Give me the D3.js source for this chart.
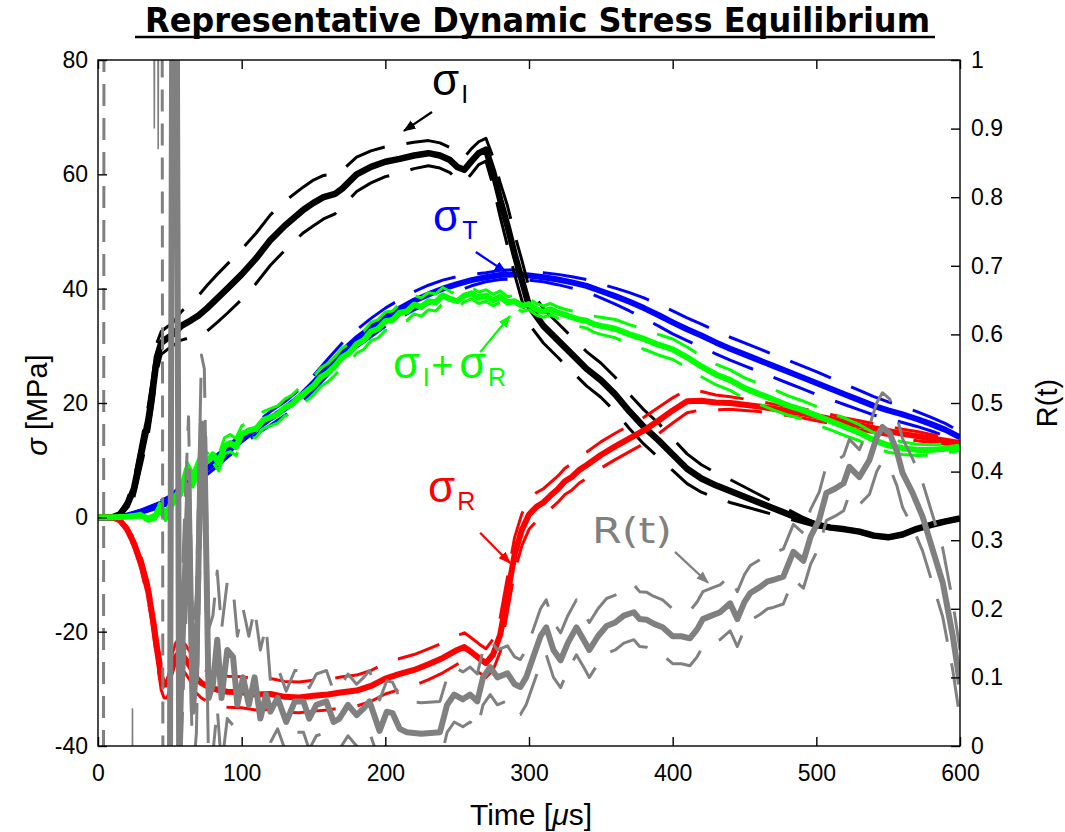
<!DOCTYPE html>
<html><head><meta charset="utf-8">
<script src="https://cdn.jsdelivr.net/npm/d3@7"></script>
<style>body{margin:0;background:#fff}svg{display:block}</style>
</head><body><svg id="c" width="1065" height="832"></svg>
<script>
// [time µs, mean, half-band of the dashed bounds]
const sigmaI = [[0,0,0],[10,0,0],[15,0.5,0.3],[20,2,0.8],[25,5,1.5],[30,11,2],[35,17,2.5],[38,22,2.5],[41,28,2.5],[44,30.5,2],[48,31.3,2],[52,32,2],[58,33.5,2.5],[65,34.5,3],[70,35.3,3.5],[76,36.6,4],[83,38.3,4.2],[90,40,4.3],[100,42.5,4.4],[110,45.3,4.4],[120,48.5,4.4],[130,51,4.3],[143,53.8,4],[150,55,4],[157,56,3.8],[165,56.6,3.5],[170,57.5,3.2],[180,60,3],[190,61.3,2.8],[200,62.2,2.6],[210,62.7,2.5],[220,63.3,2.3],[230,63.7,2.2],[238,63.3,2.2],[245,62.5,2.2],[250,61.3,2.2],[255,60.8,2.2],[260,62.3,2.2],[265,63.7,2],[270,64.3,2],[275,60.5,2.5],[280,55.5,3],[285,51,3.5],[290,46,3.5],[295,41.5,3.5],[300,37,3.2],[310,33.5,3],[320,31,3],[330,28.5,3],[340,26,3],[350,24,3],[360,21.5,3],[370,18.5,3],[380,15.8,3],[390,13.5,3],[400,11,2.8],[410,8.5,2.6],[420,6.8,2.4],[430,5.6,2.2],[440,4.6,2],[450,3.6,1.7],[460,2.6,1.4],[470,1.6,1.1],[480,0.6,0.8],[490,-0.4,0.5],[500,-1.3,0.3],[510,-1.8,0.2],[520,-2.1,0.2],[530,-2.5,0.2],[540,-3.2,0.2],[550,-3.5,0.2],[560,-3,0.2],[570,-2,0.2],[580,-1.3,0.2],[590,-0.7,0.2],[600,-0.2,0.2]];
const sigmaT = [[0,0,0],[10,0,0],[20,0.3,0.1],[30,1,0.3],[40,2,0.5],[50,3,0.7],[60,5.3,0.8],[70,7.3,1],[80,9.3,1],[90,11.5,1],[100,13.5,1],[110,15.5,1],[120,17.3,1.2],[130,19,1.2],[140,21,1.3],[150,23.5,1.3],[160,26.3,1.4],[170,29,1.5],[180,31.3,1.5],[190,33.2,1.6],[200,35,1.6],[210,36.5,1.6],[220,37.9,1.6],[230,39,1.6],[240,40,1.5],[250,40.8,1.3],[260,41.5,1],[270,42,0.8],[280,42.4,0.8],[290,42.5,0.8],[300,42.3,0.8],[310,42,0.8],[320,41.6,0.9],[330,41.1,1],[340,40.5,1.1],[350,39.6,1.2],[360,38.7,1.4],[370,37.7,1.6],[380,36.6,1.8],[390,35.4,1.9],[400,34.1,2],[410,32.9,2],[420,31.8,2],[430,30.6,2],[440,29.5,2],[450,28.5,2],[460,27.5,2],[470,26.5,2],[480,25.5,2],[490,24.5,2],[500,23.5,2],[510,22.5,1.9],[520,21.5,1.8],[530,20.5,1.7],[540,19.5,1.6],[550,18.7,1.5],[560,18,1.4],[570,17.2,1.3],[580,16.3,1.2],[590,15.3,1.1],[600,14,1]];
const sigmaIR = [[0,0,0],[10,0,0],[20,0.1,0.2],[30,0.3,0.4],[35,-0.2,0.5],[40,0.3,0.6],[43,1.8,0.7],[47,0.2,0.8],[52,2.5,1],[57,4,1],[62,8.5,1.2],[66,6.5,1.2],[71,9.5,1.3],[76,9.8,1.3],[80,11,1.4],[84,9.5,1.4],[88,12.5,1.4],[92,13,1.5],[96,12.3,1.5],[100,14.5,1.5],[105,15.2,1.5],[110,15.5,1.5],[115,17,1.5],[120,17.5,1.5],[125,18,1.5],[130,19.2,1.5],[135,19.8,1.6],[140,21,1.6],[145,22,1.6],[150,23,1.6],[155,24.5,1.6],[160,25.3,1.6],[165,26.5,1.6],[170,28,1.6],[175,28.8,1.6],[180,30.3,1.6],[185,31,1.6],[190,32.5,1.6],[195,33,1.6],[200,34.3,1.6],[205,34.5,1.6],[210,35.8,1.6],[215,36,1.6],[220,37.2,1.6],[225,36.8,1.6],[230,37.8,1.5],[235,37.6,1.5],[240,38.8,1.4],[245,38.2,1.3],[250,37.8,1.2],[255,38.8,1.1],[260,39.2,1],[265,38.4,1],[270,38.8,1],[275,38,1],[280,38.6,1],[285,37.6,1],[290,37.8,1],[295,37,1],[300,37.3,1],[305,36.4,1],[310,36,1],[315,36.4,1],[320,35.8,1],[325,35.4,1],[330,35,1.1],[335,34.6,1.2],[340,34.4,1.3],[345,33.8,1.4],[350,33.5,1.5],[360,33,1.6],[370,32,1.7],[380,31.2,1.8],[390,30.2,1.8],[400,29.4,1.8],[410,28,1.8],[420,26.4,1.8],[430,25,1.8],[440,24,1.8],[450,22.6,1.8],[460,21.6,1.8],[470,20.6,1.8],[480,19.6,1.7],[490,18.8,1.6],[500,17.8,1.6],[510,16.8,1.5],[520,15.8,1.5],[530,14.8,1.4],[540,13.5,1.3],[550,12.6,1.2],[560,12.1,1.1],[570,11.8,1],[580,11.8,0.9],[590,12,0.8],[600,12.4,0.7]];
const sigmaR = [[0,0,0],[10,0,0],[15,-0.5,0.2],[20,-2,0.4],[25,-4.5,0.8],[30,-8,1.1],[35,-13,1.5],[38,-17.5,1.7],[41,-23,2],[44,-28,2.2],[46,-29.3,2.3],[48,-29.2,2.4],[51,-27,2.5],[54,-24.5,2.5],[57,-23.5,2.5],[60,-24.5,2.5],[64,-26,2.5],[68,-28,2.6],[72,-29,2.6],[78,-29.8,2.7],[84,-30.2,2.7],[90,-30.5,2.7],[100,-30.6,2.7],[110,-31,2.7],[120,-30.9,2.7],[130,-31.4,2.7],[140,-31.5,2.7],[150,-31.2,2.7],[160,-31,2.7],[170,-30.6,2.7],[180,-30.3,2.7],[190,-29.5,2.7],[200,-28.2,2.7],[210,-27.4,2.7],[220,-26.7,2.7],[230,-25.7,2.7],[240,-24.6,2.6],[250,-23.2,2.5],[255,-22.7,2.5],[260,-23.6,2.5],[265,-24.6,2.5],[270,-25.5,2.5],[275,-24,2.7],[280,-20.5,3],[285,-13.5,3],[290,-6.5,3],[295,-2.2,2.8],[300,0.5,2.6],[305,1.8,2.5],[310,2.6,2.4],[315,3.8,2.3],[320,4.9,2.3],[325,6.3,2.3],[330,7.1,2.3],[335,8.3,2.3],[340,9.1,2.3],[350,10.9,2.3],[360,12.4,2.3],[370,13.8,2.3],[380,15.2,2.3],[390,16.9,2.3],[400,18.7,2.2],[410,20.3,2],[420,20.4,1.6],[430,20.1,1.3],[440,20,1.1],[450,19.7,1],[460,19.4,0.9],[470,19,0.8],[480,18.6,0.8],[490,18.2,0.8],[500,17.7,0.8],[510,17.2,0.8],[520,16.6,0.8],[530,16.1,0.8],[540,15.6,0.8],[550,15.1,0.8],[560,14.6,0.8],[570,14.2,0.8],[580,13.8,0.7],[590,13.4,0.6],[600,13,0.5]];
const ratioR = [[50,-0.1,0.03],[52,1.3,0.03],[54.5,1.3,0.03],[56.5,-0.02,0.03],[58,0.1,0.1],[60.5,0.25,0.1],[63,0.38,0.1],[66,0.05,0.1],[68.5,0.12,0.1],[72,0.47,0.1],[74,0.45,0.1],[77,0.07,0.1],[80,0.09,0.1],[83,0.155,0.1],[86,0.07,0.1],[90,0.14,0.1],[94,0.13,0.1],[97,0.06,0.1],[101,0.1,0.1],[105,0.06,0.1],[109,0.1,0.1],[113,0.04,0.1],[117,0.075,0.1],[120,0.05,0.045],[125,0.07,0.045],[131,0.035,0.045],[137,0.065,0.045],[143,0.065,0.045],[147,0.04,0.045],[152,0.06,0.045],[159,0.065,0.045],[164,0.035,0.045],[168,0.04,0.045],[174,0.06,0.045],[180,0.045,0.045],[185,0.055,0.045],[189,0.065,0.045],[196,0.022,0.045],[201,0.05,0.045],[205,0.048,0.045],[210,0.025,0.045],[215,0.02,0.045],[225,0.018,0.045],[238,0.02,0.045],[243,0.06,0.04],[248,0.075,0.04],[254,0.068,0.04],[259,0.075,0.04],[264,0.065,0.04],[268,0.1,0.04],[273,0.115,0.04],[278,0.1,0.04],[285,0.106,0.04],[290,0.09,0.04],[294,0.086,0.04],[298,0.1,0.04],[303,0.13,0.04],[308,0.16,0.04],[312,0.173,0.04],[317,0.14,0.04],[322,0.125,0.04],[327,0.15,0.04],[333,0.173,0.04],[338,0.155,0.04],[342,0.14,0.04],[348,0.16,0.04],[354,0.175,0.04],[360,0.18,0.04],[366,0.19,0.04],[373,0.195,0.04],[377,0.185,0.04],[382,0.184,0.04],[387,0.178,0.04],[393,0.173,0.04],[400,0.16,0.04],[406,0.16,0.04],[412,0.157,0.04],[417,0.17,0.04],[421,0.185,0.04],[427,0.19,0.04],[433,0.195,0.04],[440,0.208,0.04],[445,0.185,0.04],[450,0.21,0.04],[454,0.223,0.04],[461,0.232,0.04],[466,0.24,0.04],[470,0.242,0.04],[477,0.247,0.04],[484,0.283,0.04],[491,0.27,0.04],[496,0.305,0.04],[502,0.33,0.04],[507,0.369,0.04],[513,0.375,0.04],[519,0.383,0.04],[523,0.407,0.04],[530,0.392,0.04],[537,0.417,0.05],[542,0.45,0.05],[546,0.465,0.05],[551,0.456,0.05],[556,0.43,0.05],[560,0.398,0.05],[567,0.369,0.05],[574,0.334,0.05],[581,0.286,0.05],[588,0.238,0.05],[595,0.16,0.05],[600,0.09,0.05]];
// early bound excursions of R(t) (before the main trace starts)
const ratioEarlyDashed = [[0,-0.1],[3.8,-0.1],[4.2,1.2],[44.6,1.2],[45.2,-0.1],[49,-0.1]];
const ratioEarlyThin = [[[23.8,-0.1],[24,0.055],[24.2,-0.1]],[[38.8,1.2],[39.2,0.9],[39.6,1.2]],[[41.5,1.2],[41.9,0.87],[42.3,1.2]]];
const xTicks = [0,100,200,300,400,500,600];
const yLeftTicks = [-40,-20,0,20,40,60,80];
const yRightTicks = [0,0.1,0.2,0.3,0.4,0.5,0.6,0.7,0.8,0.9,1];

const svg = d3.select('#c');
const L=98, Rr=960, T=60, B=746;
const x = d3.scaleLinear().domain([0,600]).range([L,Rr]);
const yL = d3.scaleLinear().domain([-40,80]).range([B,T]);
const yR = d3.scaleLinear().domain([0,1]).range([B,T]);
const FONT = '"Liberation Sans", Arial, Helvetica, sans-serif';

const defs = svg.append('defs');
defs.append('clipPath').attr('id','clip').append('rect').attr('x',L).attr('y',T).attr('width',Rr-L).attr('height',B-T);
function marker(id,color){
  defs.append('marker').attr('id',id).attr('viewBox','0 0 10 10').attr('refX',9).attr('refY',5)
    .attr('markerWidth',5.5).attr('markerHeight',5.5).attr('orient','auto')
    .append('path').attr('d','M0,1.2L10,5L0,8.8z').attr('fill',color);
}
marker('aK','#000'); marker('aB','#0000ff'); marker('aG','#00ff00'); marker('aR','#ff0000'); marker('aY','#808080');

const plot = svg.append('g').attr('clip-path','url(#clip)');
const DASH = '44,22';
function series(data, y, color, wThick, wDash){
  const g = plot.append('g').attr('fill','none').attr('stroke',color).attr('stroke-linejoin','round');
  const mid = d3.line().x(d=>x(d[0])).y(d=>y(d[1]));
  const up = d3.line().x(d=>x(d[0])).y(d=>y(d[1]+d[2]));
  const lo = d3.line().x(d=>x(d[0])).y(d=>y(d[1]-d[2]));
  g.append('path').attr('d',mid(data)).attr('stroke-width',wThick);
  g.append('path').attr('d',up(data)).attr('stroke-width',wDash).attr('stroke-dasharray',DASH);
  g.append('path').attr('d',lo(data)).attr('stroke-width',wDash).attr('stroke-dasharray',DASH).attr('stroke-dashoffset',20);
}
series(sigmaT, yL, '#0000ff', 6, 3);
series(sigmaI, yL, '#000000', 6.5, 3);
series(sigmaR, yL, '#ff0000', 6, 3);
series(sigmaIR, yL, '#00ff00', 6, 3);
// R(t)
const lr = d3.line().x(d=>x(d[0])).y(d=>yR(d[1]));
plot.append('path').attr('d',lr(ratioEarlyDashed)).attr('fill','none').attr('stroke','#808080').attr('stroke-width',3).attr('stroke-dasharray','22,12');
ratioEarlyThin.forEach(s=>plot.append('path').attr('d',lr(s)).attr('fill','none').attr('stroke','#808080').attr('stroke-width',1.6));
series(ratioR, yR, '#808080', 6, 3);

// frame
svg.append('rect').attr('x',L).attr('y',T).attr('width',Rr-L).attr('height',B-T).attr('fill','none').attr('stroke','#000').attr('stroke-width',1.4);
function styleAxis(g){
  g.select('.domain').remove();
  g.selectAll('.tick line').attr('stroke','#000').attr('stroke-width',1.4);
  g.selectAll('.tick text').attr('font-family',FONT).attr('font-size',23).attr('fill','#000');
}
svg.append('g').attr('transform',`translate(0,${B})`).call(d3.axisBottom(x).tickValues(xTicks).tickSize(-9).tickPadding(19).tickFormat(d=>String(d))).call(styleAxis);
svg.append('g').attr('transform',`translate(0,${T})`).call(d3.axisTop(x).tickValues(xTicks).tickSize(-9).tickFormat('')).call(styleAxis);
svg.append('g').attr('transform',`translate(${L},0)`).call(d3.axisLeft(yL).tickValues(yLeftTicks).tickSize(-9).tickPadding(10).tickFormat(d=>String(d))).call(styleAxis);
svg.append('g').attr('transform',`translate(${Rr},0)`).call(d3.axisRight(yR).tickValues(yRightTicks).tickSize(-9).tickPadding(11).tickFormat(d=>String(+d.toFixed(1)))).call(styleAxis);

// title
svg.append('text').attr('x',145).attr('y',32).attr('font-family','"DejaVu Sans Condensed","DejaVu Sans",sans-serif')
  .attr('font-stretch','condensed').attr('font-weight','bold').attr('font-size',33).attr('textLength',785).attr('lengthAdjust','spacingAndGlyphs')
  .text('Representative Dynamic Stress Equilibrium');
svg.append('line').attr('x1',135).attr('x2',935).attr('y1',37).attr('y2',37).attr('stroke','#000').attr('stroke-width',2.6);

// axis titles
svg.append('text').attr('transform','translate(47,405) rotate(-90)').attr('text-anchor','middle').attr('font-family',FONT).attr('font-size',29)
  .html('<tspan font-style="italic">σ</tspan> [MPa]');
svg.append('text').attr('transform','translate(1057,403) rotate(-90)').attr('text-anchor','middle').attr('font-family',FONT).attr('font-size',29).text('R(t)');
svg.append('text').attr('x',x(300)+2).attr('y',825).attr('text-anchor','middle').attr('font-family',FONT).attr('font-size',30)
  .html('Time [<tspan font-style="italic">μ</tspan>s]');

// annotations (data coordinates)
const ann = svg.append('g').attr('font-family',FONT);
function arrow(t0,v0,t1,v1,y,color,mk){
  ann.append('line').attr('x1',x(t0)).attr('y1',y(v0)).attr('x2',x(t1)).attr('y2',y(v1))
    .attr('stroke',color).attr('stroke-width',2.3).attr('marker-end',`url(#${mk})`);
}
arrow(232.5,70.9,213,67.6,yL,'#000','aK');
arrow(263,46.4,284,42.9,yL,'#0000ff','aB');
arrow(266,28.9,286.8,35.2,yL,'#00ff00','aG');
arrow(266,-2.7,286.8,-8,yL,'#ff0000','aR');
arrow(401.6,0.283,424.6,0.238,yR,'#808080','aY');

function sigLabel(t,v,sub,color){
  const tx = ann.append('text').attr('x',x(t)).attr('y',yL(v)).attr('fill',color).attr('font-size',44);
  tx.append('tspan').text('σ');
  tx.append('tspan').attr('font-size',25).attr('dy',8).attr('dx',2).text(sub);
}
sigLabel(232.5,73.9,'I','#000');
sigLabel(233.2,50.1,'T','#0000ff');
sigLabel(229.7,2.7,'R','#ff0000');
{
  const tx = ann.append('text').attr('y',yL(24.4)).attr('fill','#00ff00').attr('font-size',44);
  tx.append('tspan').attr('x',x(205.3)).text('σ');
  tx.append('tspan').attr('x',x(226)).attr('font-size',25).attr('dy',8).text('I');
  tx.append('tspan').attr('x',x(232)).attr('font-size',38).attr('dy',-8).text('+');
  tx.append('tspan').attr('x',x(251.5)).text('σ');
  tx.append('tspan').attr('x',x(271.5)).attr('font-size',25).attr('dy',8).text('R');
}
ann.append('text').attr('x',x(343.8)).attr('y',yR(0.296)).attr('fill','#808080')
  .attr('font-family','"DejaVu Sans", sans-serif').attr('font-size',35)
  .attr('textLength',80).attr('lengthAdjust','spacingAndGlyphs').text('R(t)');
</script></body></html>
